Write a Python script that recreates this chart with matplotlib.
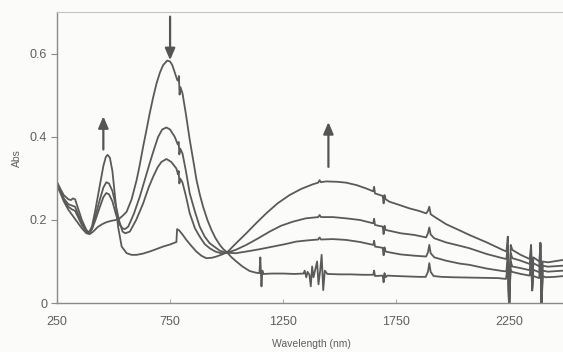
import matplotlib
matplotlib.use('Agg')
import matplotlib.pyplot as plt

plt.rcParams['font.family'] = ['Liberation Sans', 'DejaVu Sans']

# spectra (wavelength nm, absorbance)
wl_0 = [250, 265, 280, 300, 320, 340, 360, 380, 395, 410, 430, 450, 470, 490, 510, 525,
        540, 558, 580, 602, 615, 631, 645, 660, 675, 690, 705, 719, 737, 750, 760, 771,
        782, 787, 789, 792, 796, 805, 820, 837, 852, 867, 882, 896, 915, 933, 950, 970,
        985, 1002, 1020, 1043, 1070, 1102, 1130, 1145, 1149, 1154, 1158, 1162, 1200, 1250,
        1300, 1340, 1345, 1352, 1358, 1366, 1372, 1378, 1384, 1400, 1406, 1414, 1420, 1427,
        1434, 1445, 1500, 1550, 1600, 1648, 1652, 1656, 1690, 1694, 1698, 1703, 1710,
        1750, 1800, 1850, 1880, 1890, 1896, 1902, 1915, 1950, 2000, 2100, 2200, 2235, 2243,
        2249, 2255, 2262, 2300, 2340, 2346, 2351, 2356, 2382, 2387, 2392, 2397, 2410, 2450, 2490]
abs_0 = [0.283, 0.265, 0.245, 0.225, 0.21, 0.195, 0.18, 0.168, 0.166, 0.172, 0.183, 0.19, 0.195,
         0.198, 0.2, 0.203, 0.21, 0.22, 0.25, 0.296, 0.33, 0.377, 0.415, 0.457, 0.495, 0.529,
         0.555, 0.573, 0.584, 0.582, 0.573, 0.555, 0.537, 0.535, 0.547, 0.502, 0.52, 0.505,
         0.455, 0.393, 0.345, 0.296, 0.26, 0.232, 0.2, 0.176, 0.157, 0.14, 0.13, 0.122, 0.111,
         0.1, 0.088, 0.077, 0.073, 0.072, 0.11, 0.04, 0.078, 0.07, 0.071, 0.071, 0.07, 0.071,
         0.078, 0.062, 0.075, 0.068, 0.04, 0.088, 0.062, 0.1, 0.045, 0.08, 0.116, 0.031,
         0.078, 0.07, 0.069, 0.069, 0.068, 0.068, 0.078, 0.065, 0.066, 0.05, 0.072,
         0.062, 0.066, 0.065, 0.064, 0.063, 0.063, 0.075, 0.096, 0.075, 0.065, 0.063, 0.062,
         0.061, 0.06, 0.058, 0.09, -0.02, 0.08, 0.075, 0.07, 0.066, 0.1, 0.03, 0.065, 0.06,
         0.14, -0.02, 0.065, 0.062, 0.063, 0.065]

wl_1 = [250, 265, 280, 300, 315, 330, 345, 360, 380, 392, 405, 420, 440, 455, 468, 480, 495,
        510, 525, 540, 550, 565, 590, 616, 640, 660, 680, 697, 715, 734, 750, 771, 784, 788,
        791, 795, 805, 820, 837, 860, 881, 903, 925, 950, 970, 1000, 1040, 1087, 1150, 1205,
        1260, 1308, 1360, 1405, 1411, 1417, 1470, 1528, 1590, 1648, 1652, 1656, 1690, 1694,
        1698, 1703, 1720, 1770, 1830, 1882, 1890, 1896, 1902, 1918, 1970, 2030, 2073, 2150,
        2220, 2237, 2243, 2249, 2256, 2263, 2300, 2340, 2346, 2351, 2356, 2383, 2387, 2392,
        2397, 2420, 2490]
abs_1 = [0.288, 0.27, 0.25, 0.232, 0.226, 0.222, 0.205, 0.188, 0.172, 0.168, 0.178, 0.2, 0.232,
         0.255, 0.265, 0.262, 0.245, 0.215, 0.19, 0.18, 0.178, 0.184, 0.215, 0.256, 0.3, 0.337,
         0.372, 0.4, 0.418, 0.423, 0.418, 0.4, 0.382, 0.388, 0.358, 0.372, 0.36, 0.318, 0.264,
         0.22, 0.184, 0.16, 0.144, 0.134, 0.126, 0.121, 0.12, 0.124, 0.13, 0.136, 0.142, 0.148,
         0.151, 0.153, 0.158, 0.153, 0.154, 0.152, 0.147, 0.14, 0.15, 0.136, 0.133, 0.115,
         0.134, 0.124, 0.122, 0.117, 0.114, 0.112, 0.122, 0.14, 0.12, 0.11, 0.102, 0.095,
         0.092, 0.083, 0.077, 0.076, 0.12, -0.02, 0.1, 0.088, 0.084, 0.079, 0.115, 0.035, 0.08,
         0.074, 0.14, -0.02, 0.078, 0.0755, 0.078]

wl_2 = [250, 265, 280, 300, 315, 330, 345, 360, 380, 392, 405, 420, 440, 455, 468, 480, 495,
        510, 525, 540, 552, 572, 600, 631, 655, 675, 695, 712, 734, 755, 778, 785, 788, 791,
        795, 805, 820, 837, 860, 881, 903, 925, 950, 975, 1000, 1040, 1087, 1140, 1190, 1240,
        1293, 1350, 1405, 1411, 1417, 1470, 1528, 1590, 1648, 1652, 1656, 1690, 1694, 1698,
        1703, 1720, 1770, 1830, 1882, 1890, 1896, 1902, 1918, 1970, 2030, 2073, 2150, 2220,
        2237, 2243, 2249, 2256, 2263, 2300, 2340, 2346, 2351, 2356, 2383, 2387, 2392, 2397,
        2420, 2490]
abs_2 = [0.29, 0.27, 0.252, 0.238, 0.235, 0.232, 0.212, 0.192, 0.172, 0.168, 0.18, 0.21, 0.25,
         0.278, 0.291, 0.288, 0.27, 0.235, 0.198, 0.172, 0.168, 0.172, 0.2, 0.24, 0.278, 0.304,
         0.327, 0.34, 0.347, 0.34, 0.324, 0.31, 0.318, 0.288, 0.3, 0.29, 0.258, 0.216, 0.18,
         0.16, 0.142, 0.132, 0.124, 0.12, 0.121, 0.128, 0.14, 0.156, 0.172, 0.186, 0.196,
         0.204, 0.207, 0.212, 0.207, 0.207, 0.204, 0.2, 0.192, 0.203, 0.188, 0.184, 0.166,
         0.186, 0.176, 0.174, 0.168, 0.164, 0.158, 0.168, 0.182, 0.165, 0.156, 0.146, 0.138,
         0.132, 0.118, 0.108, 0.106, 0.14, -0.02, 0.12, 0.108, 0.102, 0.094, 0.125, 0.04,
         0.096, 0.088, 0.145, -0.02, 0.09, 0.0875, 0.09]

wl_3 = [250, 265, 280, 300, 312, 320, 330, 345, 360, 380, 392, 405, 420, 440, 455, 466, 474,
        484, 495, 506, 520, 536, 558, 580, 602, 630, 660, 690, 719, 750, 778, 781, 790, 805, 822,
        845, 866, 888, 910, 935, 955, 980, 1002, 1040, 1087, 1130, 1175, 1225, 1278, 1330,
        1381, 1405, 1411, 1417, 1440, 1490, 1528, 1575, 1617, 1648, 1652, 1656, 1690, 1694,
        1698, 1703, 1720, 1765, 1808, 1850, 1882, 1890, 1896, 1902, 1918, 1970, 2030, 2073,
        2150, 2220, 2237, 2243, 2249, 2256, 2263, 2300, 2340, 2346, 2351, 2356, 2383, 2387,
        2392, 2397, 2420, 2490]
abs_3 = [0.292, 0.275, 0.26, 0.25, 0.248, 0.252, 0.25, 0.225, 0.2, 0.176, 0.17, 0.185, 0.225,
         0.285, 0.33, 0.352, 0.357, 0.35, 0.318, 0.26, 0.184, 0.136, 0.12, 0.116, 0.116, 0.119,
         0.124, 0.13, 0.136, 0.141, 0.147, 0.178, 0.175, 0.165, 0.152, 0.137, 0.124, 0.114,
         0.108, 0.109, 0.112, 0.117, 0.122, 0.143, 0.168, 0.192, 0.216, 0.24, 0.26, 0.275,
         0.286, 0.29, 0.296, 0.291, 0.293, 0.292, 0.29, 0.284, 0.276, 0.269, 0.28, 0.264,
         0.258, 0.24, 0.26, 0.25, 0.244, 0.236, 0.228, 0.222, 0.216, 0.222, 0.232, 0.214,
         0.208, 0.19, 0.175, 0.164, 0.146, 0.128, 0.124, 0.16, -0.02, 0.14, 0.128, 0.116,
         0.106, 0.14, 0.05, 0.11, 0.1, 0.145, -0.02, 0.1, 0.098, 0.104]

# arrows: (x, start, end)
arrows = [(750, 0.69, 0.585), (455, 0.37, 0.45), (1450, 0.328, 0.436)]

x_ticks = [250, 750, 1250, 1750, 2250]
y_ticks = [0, 0.2, 0.4, 0.6]
y_tick_labels = ['0', '0.2', '0.4', '0.6']

line_color = '#5a5a5a'
bg = '#fbfbf9'

fig = plt.figure(figsize=(5.63, 3.52), dpi=100, facecolor=bg)
ax = fig.add_axes([0.1012, 0.1392, 0.904, 0.8253], facecolor=bg)

for wl, a in [(wl_0, abs_0), (wl_1, abs_1), (wl_2, abs_2), (wl_3, abs_3)]:
    ax.plot(wl, a, color=line_color, linewidth=1.3)

for x, y0, y1 in arrows:
    ax.annotate('', xy=(x, y1), xytext=(x, y0),
                arrowprops=dict(arrowstyle='-|>,head_width=0.3,head_length=0.7',
                                color='#555555', lw=1.6, shrinkA=0, shrinkB=0))

ax.set_xlim(250, 2500)
ax.set_ylim(0, 0.7)
ax.set_xticks(x_ticks)
ax.set_xticklabels([str(t) for t in x_ticks])
ax.set_yticks(y_ticks)
ax.set_yticklabels(y_tick_labels)

for s in ['left', 'bottom']:
    ax.spines[s].set_color('#8a8a8a')
    ax.spines[s].set_linewidth(1.0)
ax.spines['top'].set_color('#c4c4c4')
ax.spines['right'].set_visible(False)

ax.tick_params(axis='y', direction='out', length=4, width=0.8, color='#8a8a8a',
               labelsize=9, labelcolor='#5f5f5f', pad=3)
ax.tick_params(axis='x', direction='in', length=3, width=0.8, color='#b0b0b0',
               labelsize=9, labelcolor='#5f5f5f', pad=9)

ax.set_xlabel('Wavelength (nm)', fontsize=7.5, color='#5f5f5f', labelpad=8)
ax.set_ylabel('Abs', fontsize=7.5, color='#5f5f5f', labelpad=6)

fig.savefig('out.png', dpi=100, facecolor=bg)
